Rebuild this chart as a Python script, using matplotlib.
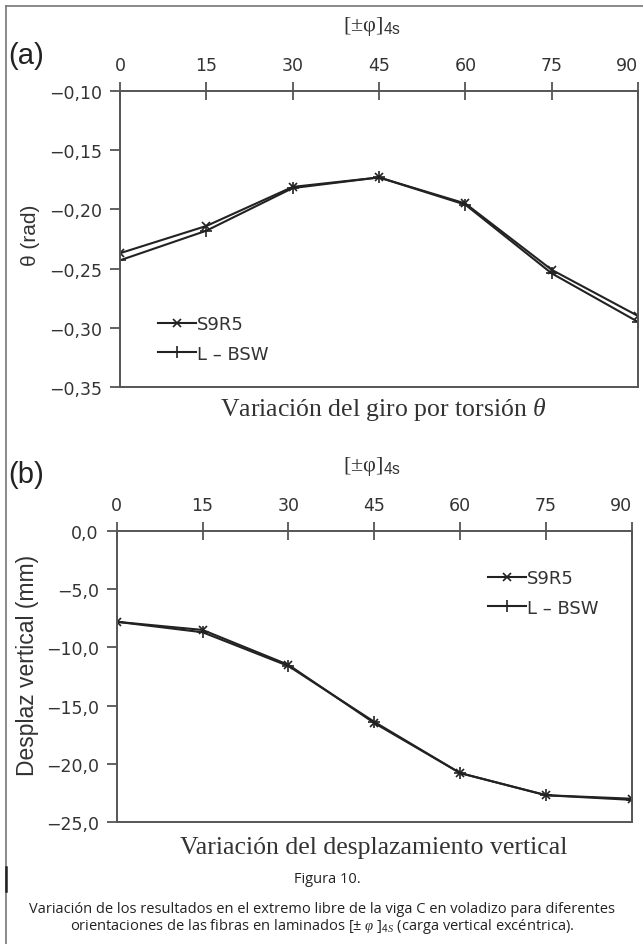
import matplotlib
matplotlib.use("Agg")
import matplotlib.pyplot as plt
from matplotlib.lines import Line2D

plt.rcParams['font.family'] = ['DejaVu Sans']
plt.rcParams['mathtext.fontset'] = 'custom'
plt.rcParams['mathtext.rm'] = 'Liberation Sans'
plt.rcParams['mathtext.it'] = 'Liberation Serif:italic'
plt.rcParams['axes.unicode_minus'] = True

# ---------------- data ----------------
angles = [0, 15, 30, 45, 60, 75, 90]
angle_labels = ['0', '15', '30', '45', '60', '75', '90']

theta_s9r5 = [-0.237, -0.214, -0.181, -0.173, -0.195, -0.251, -0.290]
theta_lbsw = [-0.243, -0.218, -0.182, -0.173, -0.196, -0.254, -0.295]
theta_ticks = [-0.10, -0.15, -0.20, -0.25, -0.30, -0.35]
theta_ticklabels = ['\u22120,10', '\u22120,15', '\u22120,20', '\u22120,25', '\u22120,30', '\u22120,35']

disp_s9r5 = [-7.8, -8.5, -11.5, -16.5, -20.8, -22.7, -23.0]
disp_lbsw = [-7.8, -8.7, -11.6, -16.4, -20.8, -22.7, -23.1]
disp_ticks = [0.0, -5.0, -10.0, -15.0, -20.0, -25.0]
disp_ticklabels = ['0,0', '\u22125,0', '\u221210,0', '\u221215,0', '\u221220,0', '\u221225,0']

series_names = ['S9R5', 'L \u2013 BSW']

W, H = 643, 945
fig = plt.figure(figsize=(W / 100, H / 100), dpi=100)

def px_axes(l, t, r, b):
    return fig.add_axes([l / W, 1 - b / H, (r - l) / W, (b - t) / H])

tick_font = ['DejaVu Sans']

def style_axes(ax, yticks, yticklabels, ylim):
    ax.set_xlim(0, 90)
    ax.set_ylim(*ylim)
    for s in ax.spines.values():
        s.set_color('#555555')
        s.set_linewidth(1.4)
    ax.xaxis.tick_top()
    ax.set_xticks(angles)
    ax.set_xticklabels(angle_labels, family=tick_font)
    ax.tick_params(axis='x', direction='inout', length=13, width=1.3, color='#555555',
                   pad=6, labelsize=12.5, labelcolor='#333333')
    ax.get_xticklabels()[-1].set_ha('right')
    ax.get_xticklabels()[-1].set_x(ax.get_xticks()[-1])
    ax.set_yticks(yticks)
    ax.set_yticklabels(yticklabels, family=tick_font)
    ax.tick_params(axis='y', direction='out', length=7, width=1.3, color='#555555',
                   pad=6, labelsize=12.5, labelcolor='#333333')

line_kw = dict(color='#222222', linewidth=1.5)
leg_kw = dict(loc='upper left', frameon=False, fontsize=13, handlelength=2.1,
              handletextpad=0.05, labelspacing=0.65, borderaxespad=0, borderpad=0,
              labelcolor='#333333', prop={'family': 'DejaVu Sans', 'size': 13})

# ---------------- panel (a) ----------------
axa = px_axes(120, 92, 638, 388)
style_axes(axa, theta_ticks, theta_ticklabels, (-0.35, -0.10))
la1, = axa.plot(angles, theta_s9r5, marker='x', markersize=6, mew=1.2, **line_kw)
la2, = axa.plot(angles, theta_lbsw, marker='+', markersize=8, mew=1.2, **line_kw)
axa.legend([la1, la2], series_names, bbox_to_anchor=((158 - 120) / 518, (388 - 316) / 296), **leg_kw)

# ---------------- panel (b) ----------------
axb = px_axes(116.7, 532, 632, 823)
style_axes(axb, disp_ticks, disp_ticklabels, (-25.0, 0.0))
lb1, = axb.plot(angles, disp_s9r5, marker='x', markersize=6, mew=1.2, **line_kw)
lb2, = axb.plot(angles, disp_lbsw, marker='+', markersize=8, mew=1.2, **line_kw)
axb.legend([lb1, lb2], series_names, bbox_to_anchor=((488 - 116.7) / 515.3, (823 - 570) / 291), **leg_kw)

def ftext(x, y, s, **kw):
    fig.text(x / W, 1 - y / H, s, **kw)

serif = ['Liberation Serif', 'DejaVu Serif']
sans = ['Liberation Sans', 'DejaVu Sans']

# panel labels
ftext(8, 56, '(a)', fontsize=21, family=sans, va='center', ha='left', color='#222222')
ftext(8, 475, '(b)', fontsize=21, family=sans, va='center', ha='left', color='#222222')

# top axis titles
ftext(372, 27, r'[±φ]$_{\rm 4s}$', fontsize=16, family=serif, ha='center', va='center', color='#333333')
ftext(372, 467, r'[±φ]$_{\rm 4s}$', fontsize=16, family=serif, ha='center', va='center', color='#333333')

# y labels
ftext(30, 235, '\u03b8 (rad)', fontsize=15, family=sans, rotation=90, ha='center', va='center', color='#333333')
ftext(28, 665, 'Desplaz vertical (mm)', fontsize=16.5, family=sans, rotation=90, ha='center', va='center', color='#333333')

# bottom titles
ftext(383, 410, r'Variación del giro por torsión $\theta$', fontsize=18.5, family=serif,
      ha='center', va='center', color='#333333')
ftext(374, 848, 'Variación del desplazamiento vertical', fontsize=18.5, family=serif,
      ha='center', va='center', color='#333333')

# caption
cap = ['Open Sans', 'DejaVu Sans']
ftext(327, 880, 'Figura 10.', fontsize=10.5, family=cap, ha='center', va='center', color='#222222')
ftext(322, 910, 'Variación de los resultados en el extremo libre de la viga C en voladizo para diferentes',
      fontsize=10.5, family=cap, ha='center', va='center', color='#222222')
ftext(322, 927, r'orientaciones de las fibras en laminados [± $\varphi$ ]$_{4S}$ (carga vertical excéntrica).',
      fontsize=10.5, family=cap, ha='center', va='center', color='#222222')

# page frame lines
fig.add_artist(Line2D([6 / W, 1.0], [1 - 7 / H, 1 - 7 / H], transform=fig.transFigure,
                      color='#777777', linewidth=1.2))
fig.add_artist(Line2D([6 / W, 6 / W], [0.0, 1 - 7 / H], transform=fig.transFigure,
                      color='#777777', linewidth=1.2))
fig.add_artist(Line2D([6 / W, 6 / W], [1 - 892 / H, 1 - 868 / H], transform=fig.transFigure,
                      color='#222222', linewidth=1.8))

fig.savefig('out.png', dpi=100)
